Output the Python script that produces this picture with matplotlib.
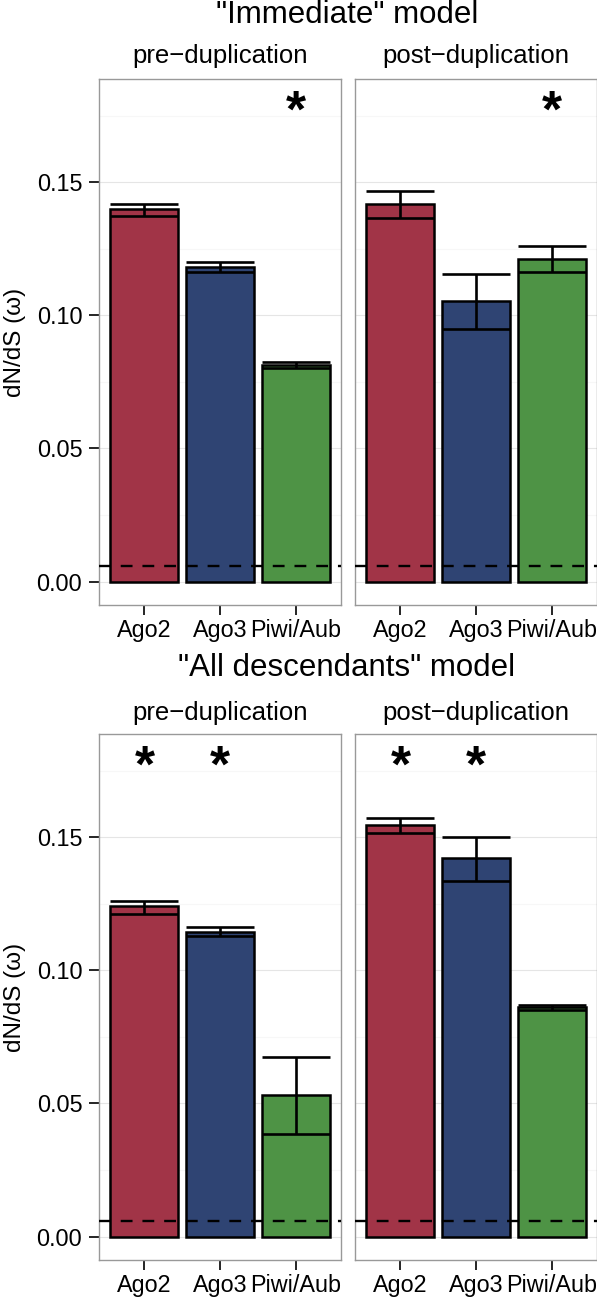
import matplotlib
matplotlib.use("Agg")
import matplotlib.pyplot as plt
from matplotlib.ticker import MultipleLocator

plt.rcParams['font.family'] = ['Liberation Sans', 'DejaVu Sans']

genes = ["Ago2", "Ago3", "Piwi/Aub"]
bar_colors = ["#A13447", "#2F4473", "#4E9345"]
model_titles = ['"Immediate" model', '"All descendants" model']
phase_labels = ["pre\u2212duplication", "post\u2212duplication"]

# "Immediate" model
imm_pre = [0.1399, 0.1183, 0.0815]
imm_pre_lo = [0.1375, 0.1163, 0.0804]
imm_pre_hi = [0.1418, 0.1199, 0.0824]
imm_post = [0.1417, 0.1055, 0.1212]
imm_post_lo = [0.1365, 0.0950, 0.1163]
imm_post_hi = [0.1467, 0.1157, 0.1259]
imm_pre_sig = [False, False, True]
imm_post_sig = [False, False, True]

# "All descendants" model
all_pre = [0.1240, 0.1146, 0.0531]
all_pre_lo = [0.1213, 0.1130, 0.0387]
all_pre_hi = [0.1261, 0.1162, 0.0675]
all_post = [0.1546, 0.1421, 0.0862]
all_post_lo = [0.1515, 0.1337, 0.0853]
all_post_hi = [0.1571, 0.1501, 0.0870]
all_pre_sig = [True, True, False]
all_post_sig = [True, True, False]

neutral_line = 0.006
star_y = 0.176

panels = [
    [(imm_pre, imm_pre_lo, imm_pre_hi, imm_pre_sig),
     (imm_post, imm_post_lo, imm_post_hi, imm_post_sig)],
    [(all_pre, all_pre_lo, all_pre_hi, all_pre_sig),
     (all_post, all_post_lo, all_post_hi, all_post_sig)],
]

W, H = 597, 1302
fig = plt.figure(figsize=(W / 100, H / 100), dpi=100)

panel_x = [99, 355]
panel_w = 242
panel_tops = [79, 734]
panel_h = 526
title_y = [15, 668]
strip_y = [56, 713]

x = list(range(1, len(genes) + 1))
bw = 0.9

for r in range(2):
    for c in range(2):
        vals, lo, hi, sig = panels[r][c]
        left = panel_x[c] / W
        bottom = 1 - (panel_tops[r] + panel_h) / H
        ax = fig.add_axes([left, bottom, panel_w / W, panel_h / H])
        ax.set_xlim(0.4, 3.6)
        ax.set_ylim(-0.0088, 0.1888)
        ax.yaxis.set_major_locator(MultipleLocator(0.05))
        ax.yaxis.set_minor_locator(MultipleLocator(0.025))
        ax.grid(True, which='major', axis='y', color='#E5E5E5', lw=0.8, zorder=0)
        ax.grid(True, which='minor', axis='y', color='#F7F7F7', lw=0.8, zorder=0)
        ax.set_axisbelow(True)
        ax.bar(x, vals, width=bw, color=bar_colors, edgecolor='black',
               linewidth=1.8, zorder=2)
        ax.hlines(lo, [xi - bw / 2 for xi in x], [xi + bw / 2 for xi in x],
                  color='black', lw=1.9, zorder=3)
        ax.hlines(hi, [xi - bw / 2 for xi in x], [xi + bw / 2 for xi in x],
                  color='black', lw=1.9, zorder=3)
        ax.vlines(x, lo, hi, color='black', lw=1.9, zorder=3)
        ax.axhline(neutral_line, color='black', lw=1.7, ls=(0, (5.0, 4.2)), zorder=4)
        for xi, s in zip(x, sig):
            if s:
                ax.text(xi, star_y, "*", ha='center', va='center',
                        fontsize=37, fontweight='bold', zorder=5)
        ax.set_xticks(x)
        ax.set_xticklabels(genes)
        ax.tick_params(axis='x', length=7, width=1.2, pad=3, labelsize=16.8,
                       color='black', labelcolor='black')
        ax.tick_params(axis='y', which='major', length=7, width=1.2, pad=5,
                       labelsize=16.8, color='black', labelcolor='black')
        ax.tick_params(axis='y', which='minor', length=0)
        if c == 0:
            ax.yaxis.set_major_formatter(matplotlib.ticker.FormatStrFormatter('%.2f'))
        else:
            ax.tick_params(axis='y', which='both', left=False, labelleft=False)
        for sp in ax.spines.values():
            sp.set_color('#999999')
            sp.set_linewidth(1.0)
        fig.text((panel_x[c] + panel_w / 2) / W, 1 - strip_y[r] / H,
                 phase_labels[c], ha='center', va='center', fontsize=18.5)
        if c == 0:
            fig.text(15 / W, 1 - (panel_tops[r] + panel_h / 2) / H,
                     "dN/dS (\u03c9)", rotation=90, ha='center', va='center',
                     fontsize=17.5)
    fig.text(347 / W, 1 - title_y[r] / H, model_titles[r], ha='center',
             va='center', fontsize=22.5)

fig.savefig("out.png", dpi=100)
